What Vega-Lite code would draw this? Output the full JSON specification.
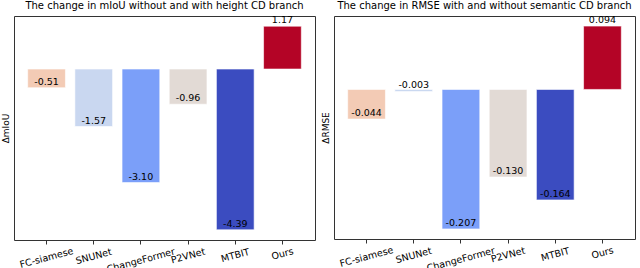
{
  "$schema": "https://vega.github.io/schema/vega-lite/v6.json",
  "padding": {"left": 0, "top": 0, "right": 2, "bottom": 0},
  "background": "white",
  "config": {
    "font": "DejaVu Sans",
    "view": {"stroke": "#333333", "strokeWidth": 1},
    "concat": {"spacing": 4},
    "title": {"fontSize": 10, "fontWeight": "normal", "color": "#000000", "offset": 4, "anchor": "middle", "font": "DejaVu Sans"},
    "axisX": {
      "labelPadding": {
        "condition": [
          {"test": "datum.value === 'FC-siamese'", "value": 13.5},
          {"test": "datum.value === 'ChangeFormer'", "value": 16},
          {"test": "datum.value === 'P2VNet'", "value": 11.5},
          {"test": "datum.value === 'MTBIT'", "value": 11},
          {"test": "datum.value === 'Ours'", "value": 9.5}
        ],
        "value": 12
      }
    }
  },
  "data": {
    "values": [
      {"model": "FC-siamese", "miou": -0.51, "rmse": -0.044, "miouLabel": "-0.51", "rmseLabel": "-0.044"},
      {"model": "SNUNet", "miou": -1.57, "rmse": -0.003, "miouLabel": "-1.57", "rmseLabel": "-0.003"},
      {"model": "ChangeFormer", "miou": -3.10, "rmse": -0.207, "miouLabel": "-3.10", "rmseLabel": "-0.207"},
      {"model": "P2VNet", "miou": -0.96, "rmse": -0.130, "miouLabel": "-0.96", "rmseLabel": "-0.130"},
      {"model": "MTBIT", "miou": -4.39, "rmse": -0.164, "miouLabel": "-4.39", "rmseLabel": "-0.164"},
      {"model": "Ours", "miou": 1.17, "rmse": 0.094, "miouLabel": "1.17", "rmseLabel": "0.094"}
    ]
  },
  "hconcat": [
    {
      "title": "The change in mIoU without and with height CD branch",
      "width": 301,
      "height": 224,
      "encoding": {
        "x": {
          "field": "model", "type": "nominal", "sort": null, "title": null,
          "scale": {"paddingInner": 0.2, "paddingOuter": 0.29},
          "axis": {"labelAngle": -15, "labelAlign": "center", "labelBaseline": "middle", "labelFontSize": 9.5, "labelColor": "#000000", "domain": false, "tickColor": "#333333", "tickSize": 4, "labelFont": "DejaVu Sans"}
        },
        "y": {
          "field": "miou", "type": "quantitative", "title": "ΔmIoU",
          "scale": {"domain": [-4.668, 1.448], "nice": false, "zero": false},
          "axis": {"labels": false, "ticks": false, "domain": false, "grid": false, "titleFontSize": 9, "titleFontWeight": "normal", "titleColor": "#000000", "titlePadding": 4, "titleFont": "DejaVu Sans"}
        }
      },
      "layer": [
        {
          "mark": {"type": "bar", "stroke": "white", "strokeWidth": 0.6},
          "encoding": {
            "color": {"field": "model", "type": "nominal", "legend": null,
              "scale": {"domain": ["FC-siamese", "SNUNet", "ChangeFormer", "P2VNet", "MTBIT", "Ours"],
                        "range": ["#f3cbb5", "#c9d7f0", "#7b9ff9", "#e2dad5", "#3b4cc0", "#b40426"]}},
            "y2": {"datum": 0}
          }
        },
        {
          "mark": {"type": "text", "baseline": "bottom", "dy": -1, "fontSize": 9.5, "color": "#000000", "font": "DejaVu Sans"},
          "encoding": {"text": {"field": "miouLabel"}}
        }
      ]
    },
    {
      "title": "The change in RMSE with and without semantic CD branch",
      "width": 301,
      "height": 223,
      "encoding": {
        "x": {
          "field": "model", "type": "nominal", "sort": null, "title": null,
          "scale": {"paddingInner": 0.2, "paddingOuter": 0.29},
          "axis": {"labelAngle": -15, "labelAlign": "center", "labelBaseline": "middle", "labelFontSize": 9.5, "labelColor": "#000000", "domain": false, "tickColor": "#333333", "tickSize": 4, "labelFont": "DejaVu Sans"}
        },
        "y": {
          "field": "rmse", "type": "quantitative", "title": "ΔRMSE",
          "scale": {"domain": [-0.222, 0.109], "nice": false, "zero": false},
          "axis": {"labels": false, "ticks": false, "domain": false, "grid": false, "titleFontSize": 9, "titleFontWeight": "normal", "titleColor": "#000000", "titlePadding": 4, "titleFont": "DejaVu Sans"}
        }
      },
      "layer": [
        {
          "mark": {"type": "bar", "stroke": "white", "strokeWidth": 0.6},
          "encoding": {
            "color": {"field": "model", "type": "nominal", "legend": null,
              "scale": {"domain": ["FC-siamese", "SNUNet", "ChangeFormer", "P2VNet", "MTBIT", "Ours"],
                        "range": ["#f3cbb5", "#c9d7f0", "#7b9ff9", "#e2dad5", "#3b4cc0", "#b40426"]}},
            "y2": {"datum": 0}
          }
        },
        {
          "mark": {"type": "text", "baseline": "bottom", "dy": -1, "fontSize": 9.5, "color": "#000000", "font": "DejaVu Sans"},
          "encoding": {"text": {"field": "rmseLabel"}}
        }
      ]
    }
  ],
  "resolve": {"scale": {"color": "shared"}}
}
